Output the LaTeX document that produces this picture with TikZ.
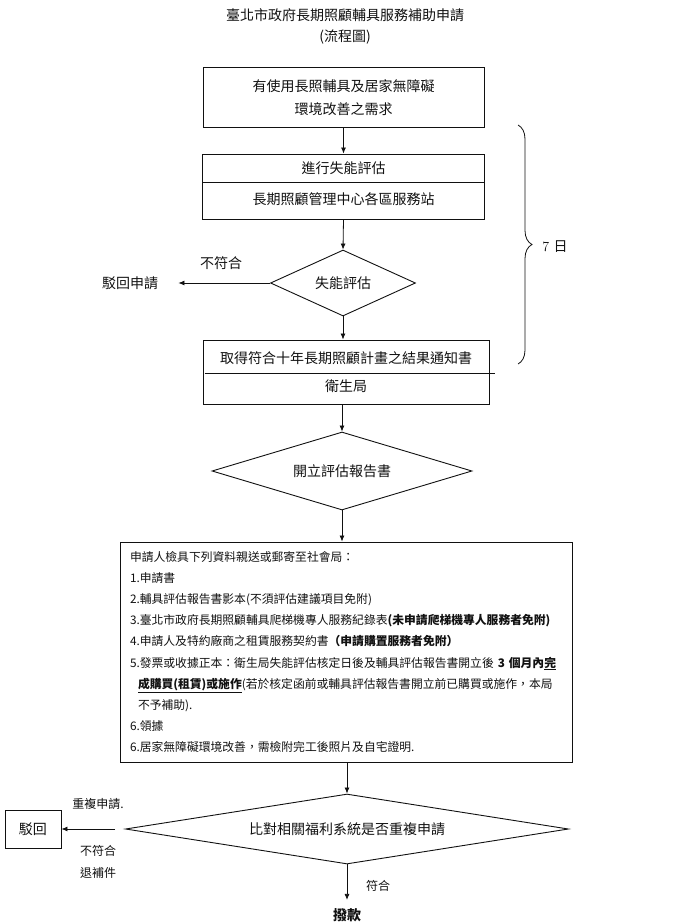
\documentclass[tikz,border=0pt]{standalone}
\usepackage{fontspec}
\usepackage{tikz}
\usetikzlibrary{arrows.meta,calc,shapes.geometric,decorations.pathreplacing}
\newfontfamily\cjk{Noto Sans CJK TC}
\definecolor{nink}{HTML}{111111}

\begin{document}
\begin{tikzpicture}[x=1pt,y=-1pt,line width=0.8pt,draw=nink,
  every node/.style={font=\cjk\fontsize{14}{16}\selectfont,inner sep=0pt,text=nink},
  procbox/.style={draw,line width=0.9pt},
  decide/.style={draw,diamond,line width=0.9pt},
  flow/.style={-{Latex[length=6pt,width=5pt]}},
  small/.style={font=\cjk\fontsize{12}{14}\selectfont}]
 \useasboundingbox (0,0) rectangle (700,924);
 \node (title) at (345,15) {臺北市政府長期照顧輔具服務補助申請};
 \node (subtitle) at (345,37) {(流程圖)};
 \node[procbox, minimum width=281pt, minimum height=60pt, align=center,
   font=\cjk\fontsize{14}{23}\selectfont] (need) at (343.5,97.5)
   {有使用長照輔具及居家無障礙\\環境改善之需求};
 \node[procbox, minimum width=282pt, minimum height=65pt] (eval) at (343.5,186.5) {};
 \node (evaltop) at (343.5,168.5) {進行失能評估};
 \node (evalsub) at (343.5,199) {長期照顧管理中心各區服務站};
 \draw ($(eval.north west)+(0,29)$) -- ($(eval.north east)+(0,29)$);
 \node[decide, aspect=2.2, minimum width=145pt, minimum height=66pt] (check) at (343,283) {失能評估};
 \node (reject) at (130,283) {駁回申請};
 \node (nofit) at (221,263) {不符合};
 \node[procbox, minimum width=286pt, minimum height=64pt] (notice) at (346,372) {};
 \node (noticetop) at (346,358) {取得符合十年長期照顧計畫之結果通知書};
 \node (noticesub) at (346,386) {衛生局};
 \draw ($(notice.north west)+(2,34)$) -- ($(notice.north east)+(6,34)$);
 \node[decide, aspect=3.3, minimum width=260pt, minimum height=78pt] (report) at (342,471) {開立評估報告書};
 \node[procbox, minimum width=452pt, minimum height=220pt, text width=432pt, align=left,
   font=\cjk\fontsize{11.8}{21.2}\selectfont] (docs) at (346,652) {%
   申請人檢具下列資料親送或郵寄至社會局：\\
   1.申請書\\
   2.輔具評估報告書影本(不須評估建議項目免附)\\
   3.臺北市政府長期照顧輔具爬梯機專人服務紀錄表\textbf{(未申請爬梯機專人服務者免附)}\\
   4.申請人及特約廠商之租賃服務契約書\textbf{（申請購置服務者免附）}\\
   5.發票或收據正本：衛生局失能評估核定日後及輔具評估報告書開立後~\textbf{3~個月內\underline{完}}\\
   \hspace*{8pt}\textbf{\underline{成購買(租賃)或施作}}(若於核定函前或輔具評估報告書開立前已購買或施作，本局\\
   \hspace*{8pt}不予補助).\\
   6.領據\\
   6.居家無障礙環境改善，需檢附完工後照片及自宅證明.};
 \node[decide, aspect=6.3, minimum width=443pt, minimum height=70pt] (dup) at (347,829) {比對相關福利系統是否重複申請};
 \node[procbox, minimum width=56pt, minimum height=38pt] (back) at (33,829) {駁回};
 \node[small] (duplabel) at (98,804) {重複申請.};
 \node[small] (nofit2) at (98,851) {不符合};
 \node[small] (resub) at (98,873) {退補件};
 \node[font=\cjk\bfseries\fontsize{14}{16}\selectfont] (pay) at (347,915) {撥款};
 \node[small] (fit) at (378,886) {符合};
 \node (days) at (555,247) {\rmfamily 7 {\cjk 日}};

 \draw[flow] (need.south) -- (eval.north);
 \draw[flow] (eval.south) -- (check.north);
 \draw[flow] (check.west) -- (reject.east) [shorten >=20pt];
 \draw[flow] (check.south) -- (check.south |- notice.north);
 \draw[flow] (report.north |- notice.south) -- (report.north);
 \draw[flow] (report.south) -- (report.south |- docs.north);
 \draw[flow] (docs.south -| dup.north) -- (dup.north);
 \draw[flow, shorten <=10pt] (dup.west) -- (back.east);
 \draw[flow, shorten >=8pt] (dup.south) -- (pay.north);
 \draw[decorate, decoration={brace, amplitude=14pt}] (518,125) -- (518,364);
\end{tikzpicture}
\end{document}
